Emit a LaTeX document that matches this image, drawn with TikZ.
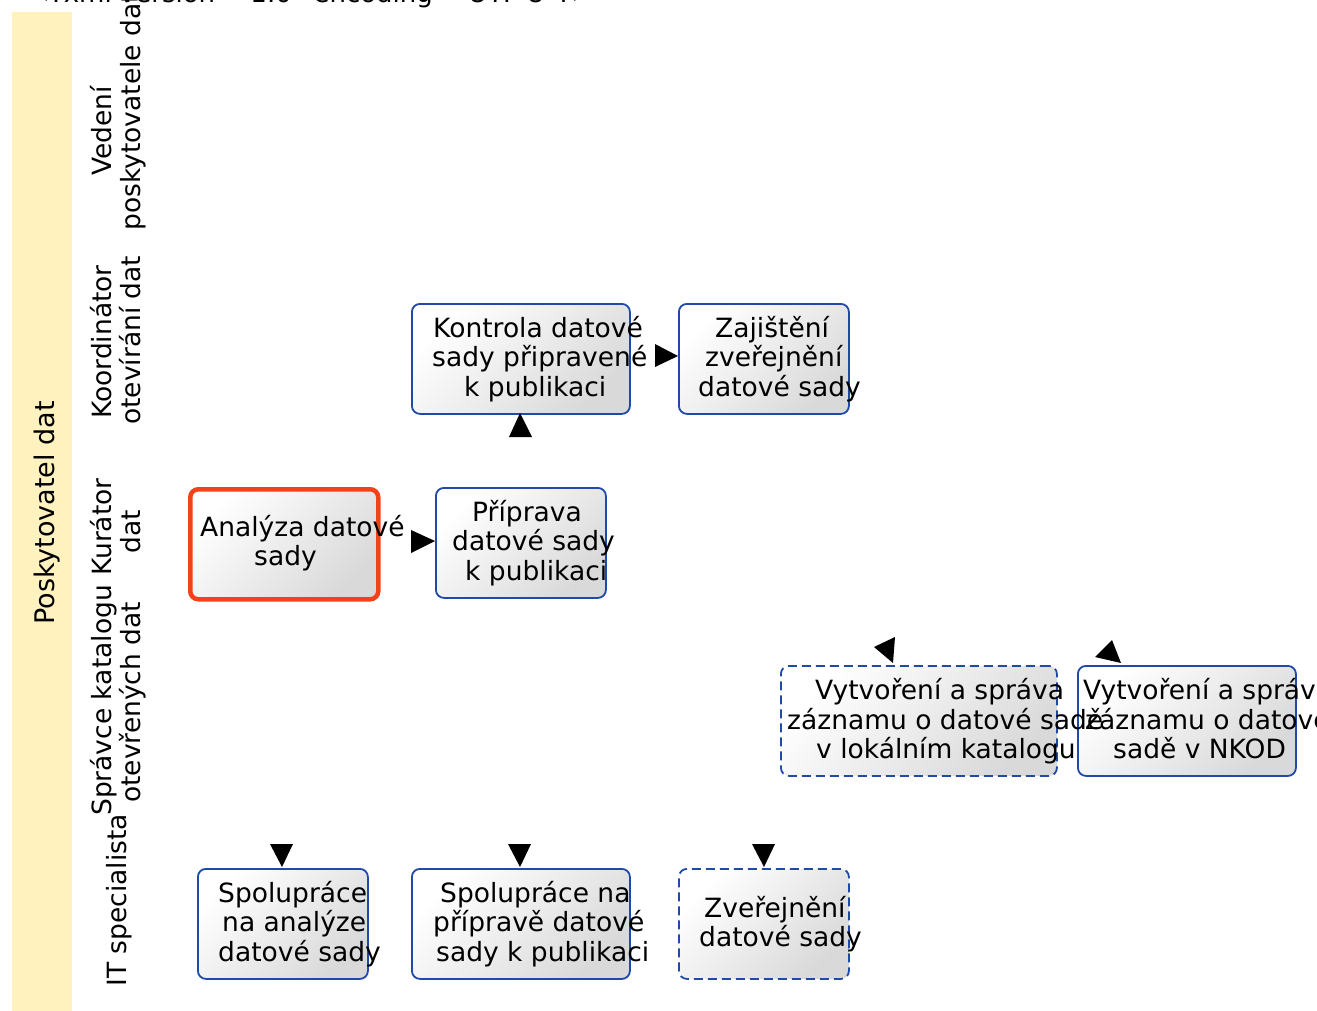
\documentclass[tikz,border=0pt]{standalone}
\usepackage{fontspec}
\setmainfont{DejaVu Sans}
\definecolor{bblue}{RGB}{32,74,168}
\definecolor{bred}{RGB}{242,66,25}
\definecolor{pool}{RGB}{255,242,190}
\begin{document}
\begin{tikzpicture}[x=1pt,y=-1pt,
  every node/.style={font=\fontsize{26.5}{29.5}\selectfont},
  box/.style={draw=bblue, line width=1.8pt, rounded corners=8pt, top color=white, bottom color=black!15, shading angle=45, inner sep=0pt, anchor=north west},
  dashbox/.style={box, dash pattern=on 9pt off 5pt},
  redbox/.style={box, draw=bred, line width=4.5pt},
  txt/.style={anchor=base west, inner sep=0pt},
  lane/.style={anchor=base west, inner sep=0pt, rotate=90},
  head/.style={fill=black}]
\useasboundingbox (0,0) rectangle (1317,1011);
% header text (clipped at top)
\node[txt, font=\fontsize{26}{29}\selectfont] (xmlhdr) at (28,3) {<?xml version="1.0" encoding="UTF-8"?>};
% pool band
\fill[pool] (12,12) rectangle (72,1011);
\node[lane, font=\fontsize{27}{31}\selectfont] (poolname) at (54,625) {Poskytovatel dat};
% lane labels
\node[lane] (l1a) at (111,176) {Vedení};
\node[lane] (l1b) at (140,231) {poskytovatele dat};
\node[lane] (l2a) at (111,419) {Koordinátor};
\node[lane] (l2b) at (140,425) {otevírání dat};
\node[lane] (l3a) at (111,576) {Kurátor};
\node[lane] (l3b) at (140,554) {dat};
\node[lane] (l4a) at (111,816) {Správce katalogu};
\node[lane] (l4b) at (140,803) {otevřených dat};
\node[lane] (l5a) at (126,987) {IT specialista};
% boxes
\node[box, minimum width=218, minimum height=110] (kontrola) at (411,303) {};
\node[box, minimum width=170, minimum height=110] (zajisteni) at (678,303) {};
\node[redbox, minimum width=188, minimum height=110] (analyza) at (188,487) {};
\node[box, minimum width=170, minimum height=110] (priprava) at (435,487) {};
\node[dashbox, minimum width=276, minimum height=110] (lokalni) at (780,665) {};
\node[box, minimum width=218, minimum height=110] (nkod) at (1077,665) {};
\node[box, minimum width=170, minimum height=110] (spolan) at (197,868) {};
\node[box, minimum width=218, minimum height=110] (spolpr) at (411,868) {};
\node[dashbox, minimum width=170, minimum height=110] (zverej) at (678,868) {};
% texts
\node[txt] (t1a) at (433,337) {Kontrola datové};
\node[txt] (t1b) at (432,366.5) {sady připravené};
\node[txt] (t1c) at (464,396) {k publikaci};
\node[txt] (t2a) at (715,337) {Zajištění};
\node[txt] (t2b) at (705,366.5) {zveřejnění};
\node[txt] (t2c) at (698,396) {datové sady};
\node[txt] (t3a) at (200,536) {Analýza datové};
\node[txt] (t3b) at (254,565.5) {sady};
\node[txt] (t4a) at (472,521) {Příprava};
\node[txt] (t4b) at (452,550.5) {datové sady};
\node[txt] (t4c) at (465,580) {k publikaci};
\node[txt] (t5a) at (815,699.5) {Vytvoření a správa};
\node[txt] (t5b) at (787,729) {záznamu o datové sadě};
\node[txt] (t5c) at (816,758.5) {v lokálním katalogu};
\node[txt] (t6a) at (1083,699.5) {Vytvoření a správa};
\node[txt] (t6b) at (1085,729) {záznamu o datové};
\node[txt] (t6c) at (1113,758.5) {sadě v NKOD};
\node[txt] (t7a) at (218,902) {Spolupráce};
\node[txt] (t7b) at (222,931.5) {na analýze};
\node[txt] (t7c) at (218,961) {datové sady};
\node[txt] (t8a) at (440,902) {Spolupráce na};
\node[txt] (t8b) at (433,931.5) {přípravě datové};
\node[txt] (t8c) at (436,961) {sady k publikaci};
\node[txt] (t9a) at (704,917) {Zveřejnění};
\node[txt] (t9b) at (699,946.5) {datové sady};
% arrowheads
\fill[head] (655,344) -- (655,367) -- (678,356) -- cycle;
\fill[head] (509,437) -- (532,437) -- (520,413) -- cycle;
\fill[head] (411,530) -- (411,553) -- (435,541) -- cycle;
\fill[head] (270,844) -- (293,844) -- (282,867) -- cycle;
\fill[head] (508,844) -- (531,844) -- (520,867) -- cycle;
\fill[head] (752,844) -- (775,844) -- (764,867) -- cycle;
\fill[head] (895,637) -- (874,647) -- (893,663) -- cycle;
\fill[head] (1112,640) -- (1095,657) -- (1121,663) -- cycle;
\end{tikzpicture}
\end{document}
